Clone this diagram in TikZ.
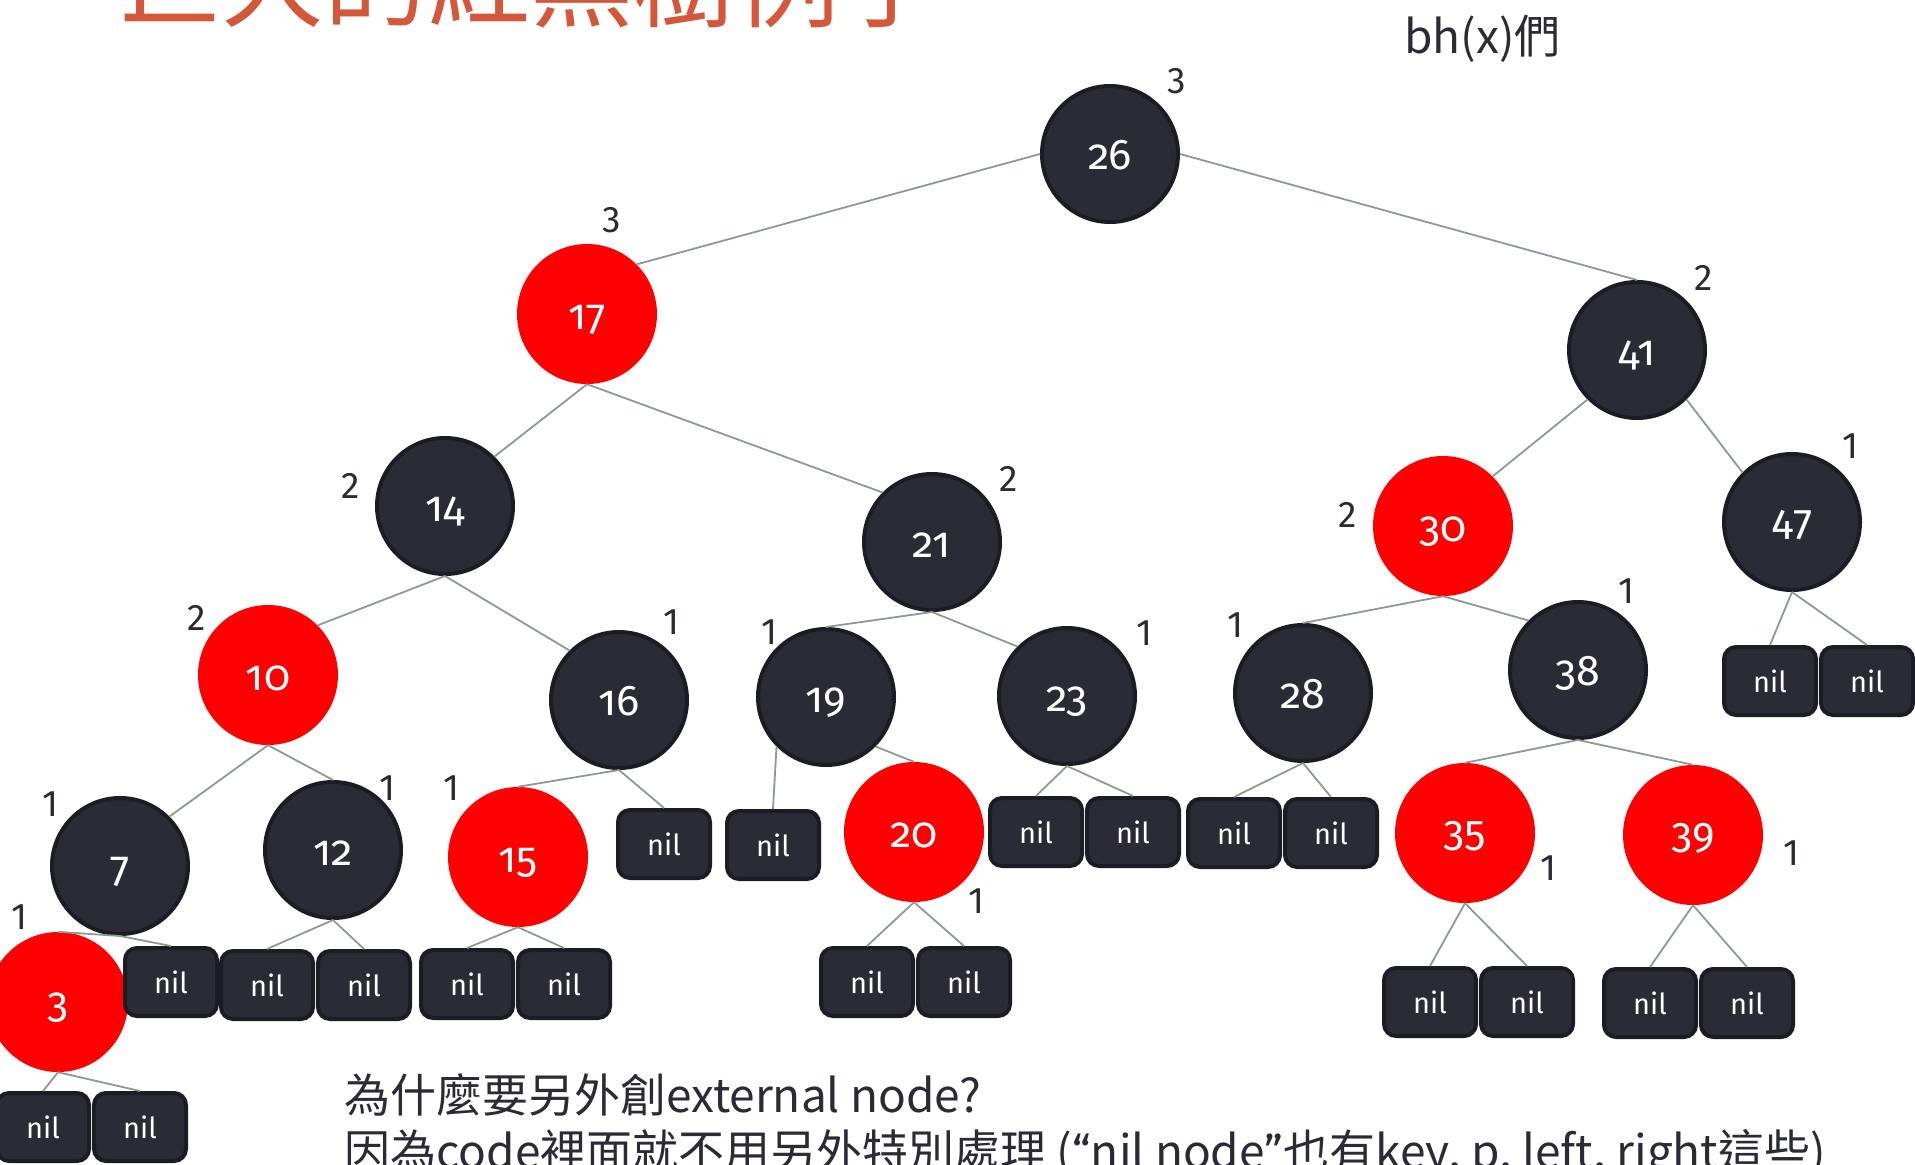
\documentclass[tikz,border=0pt]{standalone}
\usepackage{fontspec}
\usepackage{xcolor}
\setmainfont{Fira Sans}
\newfontfamily\numfont[Numbers=OldStyle]{Fira Sans}
\newfontfamily\cjk{Noto Sans CJK TC}
\usetikzlibrary{positioning}

\definecolor{nodefill}{HTML}{2B2B35}
\definecolor{nodeedge}{HTML}{1C1C24}
\definecolor{rbred}{HTML}{FF0000}
\definecolor{edgegray}{HTML}{8C9B90}
\definecolor{labelcol}{HTML}{2B2B38}
\definecolor{titlered}{HTML}{D4573A}

\begin{document}
\begin{tikzpicture}[
    x=1pt, y=-1pt,
    node distance=1pt,
    % Estilos de nodos
    blacknode/.style={circle, draw=nodeedge, line width=4pt, fill=nodefill, minimum size=136pt, inner sep=0pt, text height=31pt, text depth=0pt, text=white, font=\numfont\fontsize{43}{48}\selectfont},
    rednode/.style={circle, fill=rbred, minimum size=140pt, inner sep=0pt, text height=31pt, text depth=0pt, text=white, font=\numfont\fontsize{43}{48}\selectfont},
    lining/.style={font=\fontsize{43}{48}\selectfont, text height=34pt},
    nilnode/.style={rectangle, draw=nodeedge, line width=4pt, fill=nodefill, rounded corners=12pt, minimum width=92pt, minimum height=68pt, inner sep=0pt, text=white, font=\fontsize{29}{34}\selectfont},
    bhlabel/.style={text=labelcol, font=\fontsize{37}{42}\selectfont, inner sep=0pt},
    note/.style={text=labelcol, font=\cjk\fontsize{46}{54}\selectfont, inner sep=0pt, anchor=base west},
    link/.style={draw=edgegray, line width=1.8pt}
]
\useasboundingbox (0,0) rectangle (1915,1165);
\clip (0,0) rectangle (1915,1165);

% Titulo y textos
\node[note, font=\cjk\fontsize{103}{115}\selectfont, text=titlered] (title) at (118,19) {巨大的紅黑樹例子};
\node[note] (bhx) at (1404,53) {bh(x)們};
\node[note] (why) at (344,1112) {為什麼要另外創external node?};
\node[note] (because) at (344,1168) {因為code裡面就不用另外特別處理 ({\rmfamily“}nil node{\rmfamily”}也有key, p, left, right這些)};

% Nodos internos
\node[blacknode] (n26) at (1110,154) {26};
\node[rednode] (n17) at (587,314) {17};
\node[blacknode] (n41) at (1637,350) {41};
\node[blacknode] (n14) at (445,506) {14};
\node[blacknode] (n21) at (932,542) {21};
\node[rednode] (n30) at (1443,526) {30};
\node[blacknode, lining] (n47) at (1792,522) {47};
\node[rednode] (n10) at (268,675) {10};
\node[blacknode] (n16) at (619,700) {16};
\node[blacknode] (n19) at (826,697) {19};
\node[blacknode] (n23) at (1067,696) {23};
\node[blacknode] (n28) at (1303,693) {28};
\node[blacknode] (n38) at (1578,670) {38};
\node[blacknode] (n7) at (120,866) {7};
\node[blacknode] (n12) at (333,850) {12};
\node[rednode] (n15) at (518,857) {15};
\node[rednode] (n20) at (914,832) {20};
\node[rednode, lining] (n35) at (1465,833) {35};
\node[rednode, lining] (n39) at (1693,835) {39};
\node[rednode] (n3) at (58,1002) {3};

% Nodos nil
\node[nilnode] (nil3a) at (43,1127) {nil};
\node[nilnode, right=of nil3a] (nil3b) {nil};
\node[nilnode] (nil7) at (171,982) {nil};
\node[nilnode] (nil12a) at (267,985) {nil};
\node[nilnode, right=of nil12a] (nil12b) {nil};
\node[nilnode] (nil15a) at (467,984) {nil};
\node[nilnode, right=of nil15a] (nil15b) {nil};
\node[nilnode] (nil16) at (664,844) {nil};
\node[nilnode] (nil19) at (773,845) {nil};
\node[nilnode] (nil20a) at (867,982) {nil};
\node[nilnode, right=of nil20a] (nil20b) {nil};
\node[nilnode] (nil23a) at (1036,832) {nil};
\node[nilnode, right=of nil23a] (nil23b) {nil};
\node[nilnode] (nil28a) at (1234,833) {nil};
\node[nilnode, right=of nil28a] (nil28b) {nil};
\node[nilnode] (nil35a) at (1430,1002) {nil};
\node[nilnode, right=of nil35a] (nil35b) {nil};
\node[nilnode] (nil39a) at (1650,1003) {nil};
\node[nilnode, right=of nil39a] (nil39b) {nil};
\node[nilnode] (nil47a) at (1770,681) {nil};
\node[nilnode, right=of nil47a] (nil47b) {nil};

% Aristas
\draw[link] (n26.west) -- (n17.north east);
\draw[link] (n26.east) -- (n41.north);
\draw[link] (n17.south) -- (n14.north east);
\draw[link] (n17.south) -- (n21.north west);
\draw[link] (n41.south west) -- (n30.north east);
\draw[link] (n41.south east) -- (n47.north west);
\draw[link] (n14.south) -- (n10.north east);
\draw[link] (n14.south) -- (n16.north west);
\draw[link] (n21.south) -- (n19.north);
\draw[link] (n21.south) -- (n23.north west);
\draw[link] (n30.south) -- (n28.north);
\draw[link] (n30.south) -- (n38.north west);
\draw[link] (n10.south) -- (n7.north east);
\draw[link] (n10.south) -- (n12.north);
\draw[link] (n16.south) -- (n15.north);
\draw[link] (n16.south) -- (nil16.north);
\draw[link] (n19.south west) -- (nil19.north);
\draw[link] (n19.south east) -- (n20.north);
\draw[link] (n38.south) -- (n35.north);
\draw[link] (n38.south) -- (n39.north);
\draw[link] (n7.south) -- (n3.north);
\draw[link] (n7.south) -- (nil7.north);
\draw[link] (n3.south) -- (nil3a.north);
\draw[link] (n3.south) -- (nil3b.north);
\draw[link] (n12.south) -- (nil12a.north);
\draw[link] (n12.south) -- (nil12b.north);
\draw[link] (n15.south) -- (nil15a.north);
\draw[link] (n15.south) -- (nil15b.north);
\draw[link] (n20.south) -- (nil20a.north);
\draw[link] (n20.south) -- (nil20b.north);
\draw[link] (n23.south) -- (nil23a.north);
\draw[link] (n23.south) -- (nil23b.north);
\draw[link] (n28.south) -- (nil28a.north);
\draw[link] (n28.south) -- (nil28b.north);
\draw[link] (n35.south) -- (nil35a.north);
\draw[link] (n35.south) -- (nil35b.north);
\draw[link] (n39.south) -- (nil39a.north);
\draw[link] (n39.south) -- (nil39b.north);
\draw[link] (n47.south) -- (nil47a.north);
\draw[link] (n47.south) -- (nil47b.north);

% Alturas negras
\node[bhlabel] (bh26) at (1177,81) {3};
\node[bhlabel] (bh17) at (612,220) {3};
\node[bhlabel] (bh41) at (1704,278) {2};
\node[bhlabel] (bh47) at (1850,446) {1};
\node[bhlabel] (bh14) at (351,486) {2};
\node[bhlabel] (bh21) at (1009,479) {2};
\node[bhlabel] (bh30) at (1348,515) {2};
\node[bhlabel] (bh38) at (1626,591) {1};
\node[bhlabel] (bh10) at (197,618) {2};
\node[bhlabel] (bh16) at (672,622) {1};
\node[bhlabel] (bh19) at (770,632) {1};
\node[bhlabel] (bh23) at (1144,633) {1};
\node[bhlabel] (bh28) at (1235,625) {1};
\node[bhlabel] (bh7) at (51,804) {1};
\node[bhlabel] (bh12) at (388,788) {1};
\node[bhlabel] (bh15) at (452,788) {1};
\node[bhlabel] (bh20) at (976,901) {1};
\node[bhlabel] (bh35) at (1548,868) {1};
\node[bhlabel] (bh39) at (1791,853) {1};
\node[bhlabel] (bh3) at (20,917) {1};

\end{tikzpicture}
\end{document}
